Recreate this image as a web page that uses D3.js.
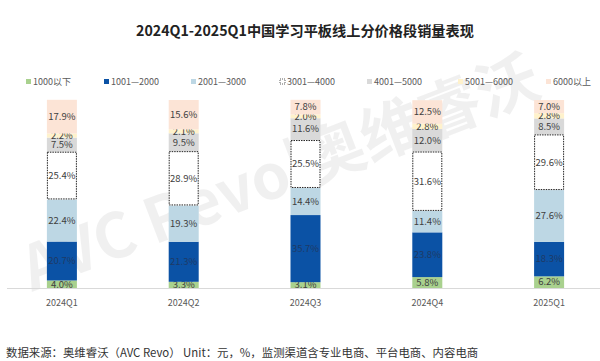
<!DOCTYPE html>
<html>
<head>
<meta charset="utf-8">
<script src="https://cdn.jsdelivr.net/npm/d3@7"></script>
<style>
	body { margin: 0; background: #fff; }
	.c-svg { width: 600px; height: 361px; }
	text { font-family: "Noto Sans CJK SC", "Noto Sans", sans-serif; }
</style>
</head>
<body>
<div class="c-svg"></div>
<script>
//DATA
//-------------------------------------------------------------------------
const quarters = ["2024Q1", "2024Q2", "2024Q3", "2024Q4", "2025Q1"];
const segments = ["1000以下", "1001—2000", "2001—3000", "3001—4000", "4001—5000", "5001—6000", "6000以上"];

const below1000 = [4.0, 3.3, 3.1, 5.8, 6.2];
const s1001to2000 = [20.7, 21.3, 35.7, 23.8, 18.3];
const s2001to3000 = [22.4, 19.3, 14.4, 11.4, 27.6];
const s3001to4000 = [25.4, 28.9, 25.5, 31.6, 29.6];
const s4001to5000 = [7.5, 9.5, 11.6, 12.0, 8.5];
const s5001to6000 = [2.2, 2.1, 2.0, 2.8, 2.8];
const above6000 = [17.9, 15.6, 7.8, 12.5, 7.0];

const seriesValues = [below1000, s1001to2000, s2001to3000, s3001to4000, s4001to5000, s5001to6000, above6000];

//OPTS
//-------------------------------------------------------------------------
const opts = {
	width: 600,
	height: 361,
	top: 100,
	bottom: 288
};

const colors = ["#a9d18e", "#0b52a5", "#bdd7e4", "#ffffff", "#d9d9d9", "#fff2cc", "#fce4d6"];

const svg = d3.select(".c-svg")
	.append("svg")
	.attr("width", opts.width)
	.attr("height", opts.height);

//table for d3.stack
const table = quarters.map((q, i) => {
	const row = { quarter: q };
	segments.forEach((s, j) => { row[s] = seriesValues[j][i]; });
	return row;
});

const stacked = d3.stack().keys(segments)(table);

const x = d3.scaleBand()
	.domain(quarters)
	.range([1, 610])
	.paddingInner(0)
	.paddingOuter(0);

const y = d3.scaleLinear()
	.domain([0, 100])
	.range([opts.bottom, opts.top]);

const barW = 30;

//WATERMARK
//-------------------------------------------------------------------------
svg.append("text")
	.attr("transform", "translate(32,292) rotate(-21)")
	.attr("font-size", 62)
	.attr("font-weight", "bold")
	.attr("fill", "#000")
	.attr("fill-opacity", 0.06)
	.text("AVC Revo|奥维睿沃");

//TITLE
//-------------------------------------------------------------------------
svg.append("text")
	.attr("x", 305)
	.attr("y", 36)
	.attr("text-anchor", "middle")
	.attr("font-size", 14.2)
	.attr("font-weight", "bold")
	.attr("fill", "#222")
	.text("2024Q1-2025Q1中国学习平板线上分价格段销量表现");

//LEGEND
//-------------------------------------------------------------------------
const legendX = [26, 104, 191, 280, 367, 458, 546];
const legend = svg.append("g");
segments.forEach((s, i) => {
	const lg = legend.append("g").attr("transform", `translate(${legendX[i]},83)`);
	lg.append("rect")
		.attr("x", 0).attr("y", -4)
		.attr("width", 5).attr("height", 5)
		.attr("fill", colors[i])
		.attr("stroke", i === 3 ? "#333" : "none")
		.attr("stroke-width", 0.8)
		.attr("stroke-dasharray", i === 3 ? "1,1" : null);
	lg.append("text")
		.attr("x", 7).attr("y", 1.5)
		.attr("font-size", 9)
		.attr("fill", "#595959")
		.text(s);
});

//BARS
//-------------------------------------------------------------------------
const layers = svg.append("g").selectAll("g")
	.data(stacked)
	.join("g");

layers.selectAll("rect")
	.data((d, i) => d.map(v => ({ v, i })))
	.join("rect")
	.attr("x", d => x(d.v.data.quarter) + x.bandwidth() / 2 - barW / 2)
	.attr("y", d => y(d.v[1]))
	.attr("width", barW)
	.attr("height", d => y(d.v[0]) - y(d.v[1]))
	.attr("fill", d => colors[d.i]);

//dotted border for 3001—4000
svg.append("g").selectAll("rect")
	.data(stacked[3])
	.join("rect")
	.attr("x", d => x(d.data.quarter) + x.bandwidth() / 2 - barW / 2 + 0.5)
	.attr("y", d => y(d[1]) + 0.5)
	.attr("width", barW - 1)
	.attr("height", d => y(d[0]) - y(d[1]) - 1)
	.attr("fill", "none")
	.attr("stroke", "#222")
	.attr("stroke-width", 1)
	.attr("stroke-dasharray", "1.5,1");

//labels
layers.selectAll("text")
	.data((d, i) => d.map(v => ({ v, i })))
	.join("text")
	.attr("x", d => x(d.v.data.quarter) + x.bandwidth() / 2)
	.attr("y", d => (y(d.v[0]) + y(d.v[1])) / 2 + 3.3)
	.attr("text-anchor", "middle")
	.attr("font-size", 9.5)
	.attr("fill", d => d.i === 1 ? "#1e3a66" : "#404040")
	.text(d => (d.v[1] - d.v[0]).toFixed(1) + "%");

//AXIS
//-------------------------------------------------------------------------
svg.append("line")
	.attr("x1", 7).attr("x2", 600)
	.attr("y1", opts.bottom + 0.5).attr("y2", opts.bottom + 0.5)
	.attr("stroke", "#d9d9d9")
	.attr("stroke-width", 1);

svg.append("g").selectAll("text")
	.data(quarters)
	.join("text")
	.attr("x", d => x(d) + x.bandwidth() / 2)
	.attr("y", 306)
	.attr("text-anchor", "middle")
	.attr("font-size", 9)
	.attr("fill", "#595959")
	.text(d => d);

//FOOTER
//-------------------------------------------------------------------------
svg.append("text")
	.attr("x", 6)
	.attr("y", 357)
	.attr("font-size", 11.4)
	.attr("fill", "#333")
	.text("数据来源：奥维睿沃（AVC Revo）  Unit：元，%，监测渠道含专业电商、平台电商、内容电商");
</script>
</body>
</html>
